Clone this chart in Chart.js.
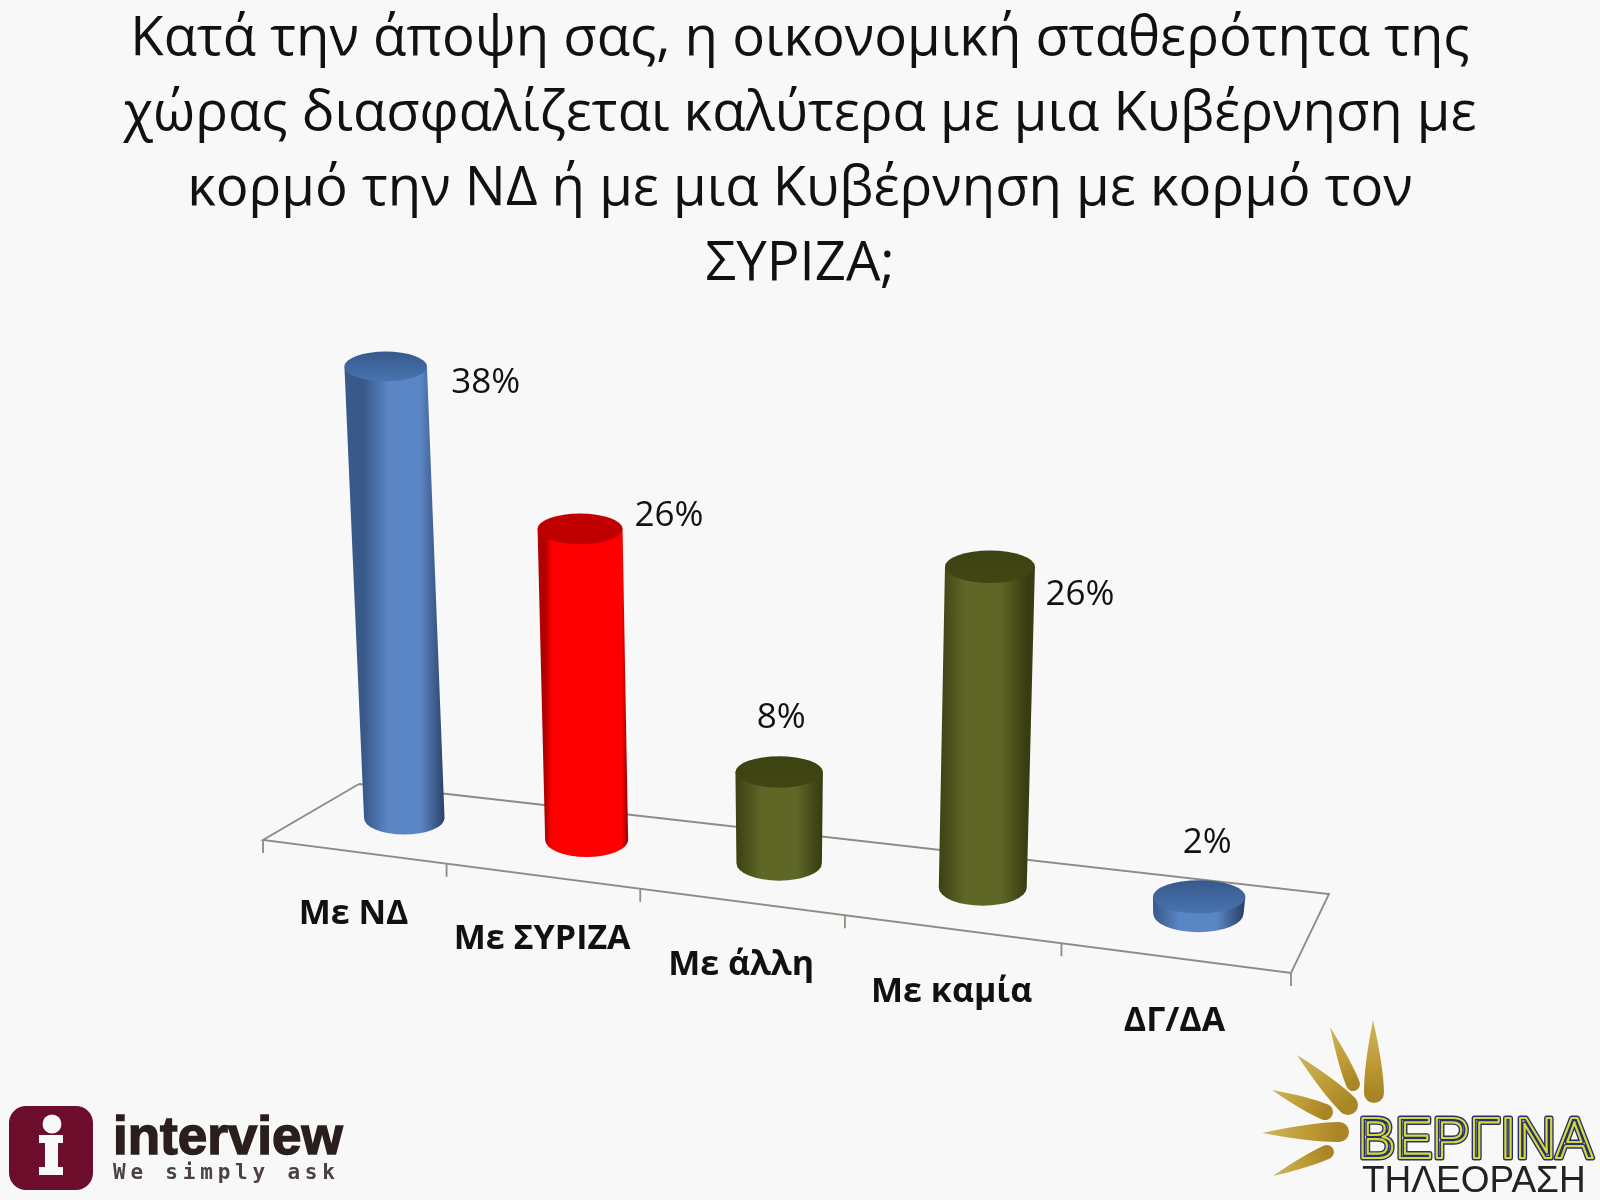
<!DOCTYPE html>
<html lang="el">
<head>
<meta charset="utf-8">
<title>Οικονομική σταθερότητα</title>
<script src="https://cdn.jsdelivr.net/npm/chart.js@4/dist/chart.umd.min.js"></script>
<style>
  html, body { margin: 0; padding: 0; background: #f8f8f8; }
  #wrap { width: 1600px; height: 1200px; }
</style>
</head>
<body>
<div id="wrap"><canvas id="chart" width="1600" height="1200"></canvas></div>
<script>
// Chart data
const titleLines = [
  'Κατά την άποψη σας, η οικονομική σταθερότητα της',
  'χώρας διασφαλίζεται καλύτερα με μια Κυβέρνηση με',
  'κορμό την ΝΔ ή με μια Κυβέρνηση με κορμό τον',
  'ΣΥΡΙΖΑ;'
];
const categories = ['Με ΝΔ', 'Με ΣΥΡΙΖΑ', 'Με άλλη', 'Με καμία', 'ΔΓ/ΔΑ'];
const percentages = [38, 26, 8, 26, 2];
const barColors = ['#4f81bd', '#ff0000', '#4f6228', '#4f6228', '#4f81bd'];

// Shading for the cylinders, by base colour
const shades = {
  '#4f81bd': { left: '#38598a', mid: '#5b86c6', right: '#2b4268', capBack: '#37598c', capFront: '#4874b0', band: 0.3 },
  '#ff0000': { left: '#b00000', mid: '#ff0000', right: '#920000', capBack: '#c00000', capFront: '#c00000', band: 0.08 },
  '#4f6228': { left: '#3d4113', mid: '#5e6726', right: '#383c10', capBack: '#3d4211', capFront: '#414613', band: 0.3 }
};

// Floor of the 3D plot, corners in page pixels
const floor = {
  frontLeft: [263, 840], frontRight: [1291, 973],
  backLeft: [359, 784], backRight: [1329, 894],
  perspective: 1.15, barDepth: 0.58, barShift: -2, vanishX: 779, lean: 0.00011
};
const labelNudge = [[100, 17], [89, -13], [2, -54], [90, 28], [8, -54]];

function lerp(a, b, k) { return a + (b - a) * k; }

// t runs 0..1 along the category axis
function floorPoint(t, depth) {
  const u = t / (t + (1 - t) * floor.perspective);
  const fx = lerp(floor.frontLeft[0], floor.frontRight[0], u);
  const fy = lerp(floor.frontLeft[1], floor.frontRight[1], u);
  const bx = lerp(floor.backLeft[0], floor.backRight[0], u);
  const by = lerp(floor.backLeft[1], floor.backRight[1], u);
  return [lerp(fx, bx, depth), lerp(fy, by, depth)];
}

function drawFloor(ctx) {
  const { frontLeft: fl, frontRight: fr, backLeft: bl, backRight: br } = floor;
  ctx.save();
  ctx.strokeStyle = '#8f8a82';
  ctx.lineWidth = 1.8;
  ctx.beginPath();
  ctx.moveTo(bl[0], bl[1]);
  ctx.lineTo(fl[0], fl[1]);
  ctx.lineTo(fr[0], fr[1]);
  ctx.lineTo(br[0], br[1]);
  ctx.lineTo(bl[0], bl[1]);
  for (let i = 0; i <= categories.length; i++) {
    const p = floorPoint(i / categories.length, 0);
    ctx.moveTo(p[0], p[1]);
    ctx.lineTo(p[0], p[1] + 13);
  }
  ctx.stroke();
  ctx.restore();
}

function drawCylinder(ctx, el, t) {
  const shade = shades[el.options.backgroundColor.toLowerCase()] || shades['#4f81bd'];
  const base = floorPoint(t, floor.barDepth);
  base[0] += floor.barShift;
  const height = (el.base - el.y) * (1 + 0.08 * t);
  const topX = base[0] + height * floor.lean * (base[0] - floor.vanishX);
  const topY = base[1] - height;
  const rx = el.width / 2 * (0.96 + 0.15 * t);
  const rxTop = rx + 1;

  const grad = ctx.createLinearGradient(base[0] - rx, 0, base[0] + rx, 0);
  grad.addColorStop(0, shade.left);
  grad.addColorStop(shade.band, shade.mid);
  grad.addColorStop(1 - shade.band, shade.mid);
  grad.addColorStop(1, shade.right);

  ctx.beginPath();
  ctx.moveTo(topX - rxTop, topY);
  ctx.lineTo(base[0] - rx, base[1]);
  ctx.ellipse(base[0], base[1], rx, rx * 0.41, 0, Math.PI, 0, true);
  ctx.lineTo(topX + rxTop, topY);
  ctx.closePath();
  ctx.fillStyle = grad;
  ctx.fill();

  const ry = rxTop * 0.36;
  const capGrad = ctx.createLinearGradient(0, topY - ry, 0, topY + ry);
  capGrad.addColorStop(0, shade.capBack);
  capGrad.addColorStop(1, shade.capFront);
  ctx.beginPath();
  ctx.ellipse(topX, topY, rxTop, ry, 0, 0, Math.PI * 2);
  ctx.fillStyle = capGrad;
  ctx.fill();
  return [topX, topY];
}

function drawRay(ctx, tip, end, r) {
  const a = Math.atan2(end[1] - tip[1], end[0] - tip[0]);
  const nx = -Math.sin(a) * r;
  const ny = Math.cos(a) * r;
  const mx = lerp(end[0], tip[0], 0.35);
  const my = lerp(end[1], tip[1], 0.35);
  const grad = ctx.createLinearGradient(tip[0], tip[1], end[0], end[1]);
  grad.addColorStop(0, '#cdb75e');
  grad.addColorStop(0.6, '#bd9a34');
  grad.addColorStop(1, '#a98525');
  ctx.beginPath();
  ctx.moveTo(tip[0], tip[1]);
  ctx.quadraticCurveTo(mx - nx, my - ny, end[0] - nx, end[1] - ny);
  ctx.arc(end[0], end[1], r, a - Math.PI / 2, a + Math.PI / 2);
  ctx.quadraticCurveTo(mx + nx, my + ny, tip[0], tip[1]);
  ctx.closePath();
  ctx.fillStyle = grad;
  ctx.fill();
}

function drawLogos(ctx) {
  ctx.save();
  // interview
  ctx.fillStyle = '#6b0d2b';
  ctx.beginPath();
  ctx.roundRect(9, 1106, 84, 84, 17);
  ctx.fill();
  ctx.fillStyle = '#f8f8f8';
  ctx.beginPath();
  ctx.arc(52, 1124, 9.5, 0, Math.PI * 2);
  ctx.fill();
  ctx.fillRect(39, 1135, 24, 8);
  ctx.fillRect(45, 1143, 13, 24);
  ctx.fillRect(39, 1167, 24, 8);
  ctx.textAlign = 'left';
  ctx.textBaseline = 'alphabetic';
  ctx.fillStyle = '#2a1f1c';
  ctx.font = 'bold 53px "Liberation Sans"';
  ctx.lineWidth = 1.5;
  ctx.strokeStyle = '#2a1f1c';
  ctx.fillText('interview', 113, 1154, 232);
  ctx.strokeText('interview', 113, 1154, 232);
  ctx.font = 'bold 21px "DejaVu Sans Mono"';
  ctx.letterSpacing = '4.8px';
  ctx.fillStyle = '#4a4240';
  ctx.fillText('We simply ask', 113, 1179);
  ctx.letterSpacing = '0px';

  // vergina
  drawRay(ctx, [1373, 1020], [1374, 1093], 10);
  drawRay(ctx, [1330, 1027], [1353, 1084], 7);
  drawRay(ctx, [1297, 1055], [1348, 1105], 10);
  drawRay(ctx, [1272, 1090], [1325, 1112], 8);
  drawRay(ctx, [1262, 1133], [1339, 1132], 10);
  drawRay(ctx, [1273, 1176], [1327, 1152], 7);
  ctx.font = '57px "Liberation Sans"';
  ctx.lineJoin = 'round';
  ctx.strokeStyle = '#27306b';
  ctx.lineWidth = 5;
  ctx.strokeText('ΒΕΡΓΙΝΑ', 1358, 1158, 235);
  ctx.strokeStyle = '#d4d83a';
  ctx.lineWidth = 2.2;
  ctx.strokeText('ΒΕΡΓΙΝΑ', 1358, 1158, 235);
  ctx.font = '37px "Liberation Sans"';
  ctx.fillStyle = '#222222';
  ctx.fillText('ΤΗΛΕΟΡΑΣΗ', 1362, 1192, 226);
  ctx.restore();
}

// Draws the bars as cylinders standing on the tilted floor
const cylinderPlugin = {
  id: 'cylinders',
  beforeDatasetDraw() {
    return false;
  },
  afterDatasetsDraw(chart) {
    const ctx = chart.ctx;
    const area = chart.chartArea;
    const meta = chart.getDatasetMeta(0);
    drawFloor(ctx);

    ctx.save();
    ctx.textAlign = 'center';
    ctx.textBaseline = 'middle';
    meta.data.forEach(function(el, i) {
      const t = (el.x - area.left) / (area.right - area.left);
      const top = drawCylinder(ctx, el, t);

      ctx.fillStyle = '#111111';
      ctx.font = '35px "Open Sans"';
      ctx.fillText(percentages[i] + '%', top[0] + labelNudge[i][0], top[1] + labelNudge[i][1]);

      const front = floorPoint(t, 0);
      ctx.font = 'bold 34px "Open Sans"';
      ctx.fillText(chart.data.labels[i], front[0], front[1] + 63);
    });
    ctx.restore();
    drawLogos(ctx);
  }
};

new Chart(document.getElementById('chart'), {
  type: 'bar',
  data: {
    labels: categories,
    datasets: [{
      data: percentages,
      backgroundColor: barColors,
      base: 0.7,
      categoryPercentage: 1,
      barPercentage: 0.258
    }]
  },
  options: {
    responsive: false,
    animation: false,
    layout: { padding: { left: 0, right: 0, top: 0, bottom: 408 } },
    plugins: {
      legend: { display: false },
      tooltip: { enabled: false },
      title: {
        display: true,
        text: titleLines,
        color: '#111111',
        font: { family: '"Open Sans"', size: 54.5, weight: 'normal', lineHeight: 1.376 },
        padding: { top: 2, bottom: 18 }
      }
    },
    scales: {
      x: { display: false },
      y: { display: false, min: 0.7, max: 40 }
    }
  },
  plugins: [cylinderPlugin]
});
</script>
</body>
</html>
